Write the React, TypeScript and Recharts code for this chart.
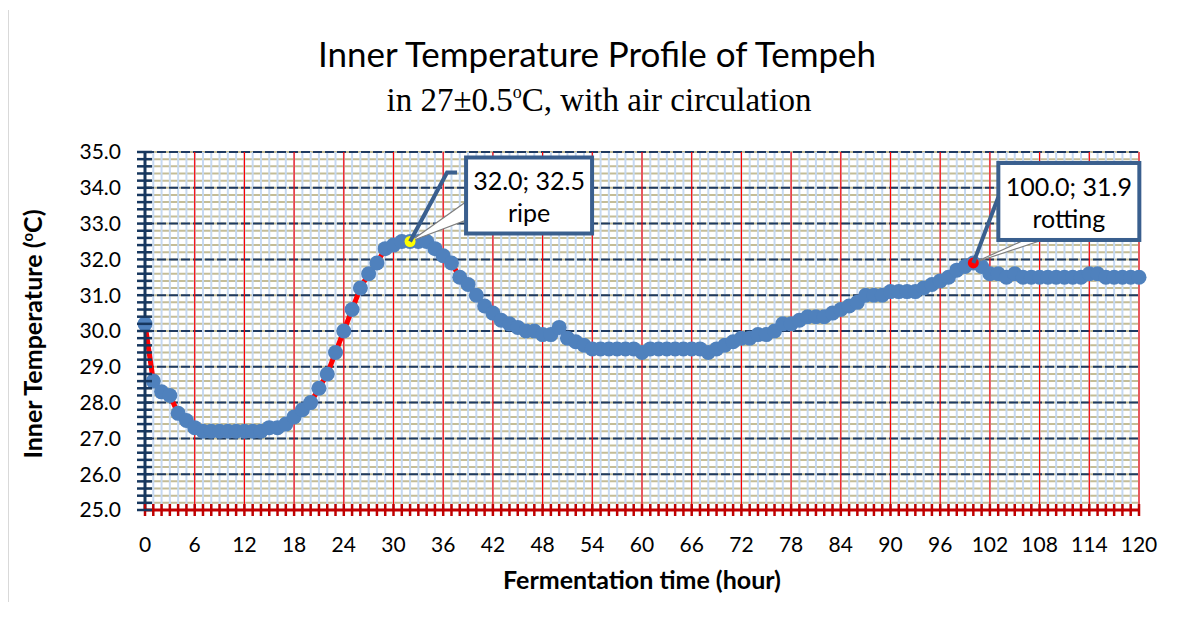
import React from "react"
import { ComposedChart, Line, XAxis, YAxis, ReferenceLine, ReferenceDot } from "recharts"

// inner temperature, one reading per hour (0..120 h)
const TEMPS = [
  30.2, 28.6, 28.3, 28.2, 27.7, 27.5, 27.3, 27.2, 27.2, 27.2,
  27.2, 27.2, 27.2, 27.2, 27.2, 27.3, 27.3, 27.4, 27.6, 27.8,
  28.0, 28.4, 28.8, 29.4, 30.0, 30.6, 31.2, 31.6, 31.9, 32.3,
  32.4, 32.5, 32.5, 32.5, 32.5, 32.3, 32.1, 31.9, 31.5, 31.3,
  31.0, 30.7, 30.5, 30.3, 30.2, 30.1, 30.0, 30.0, 29.9, 29.9,
  30.1, 29.8, 29.7, 29.6, 29.5, 29.5, 29.5, 29.5, 29.5, 29.5,
  29.4, 29.5, 29.5, 29.5, 29.5, 29.5, 29.5, 29.5, 29.4, 29.5,
  29.6, 29.7, 29.8, 29.8, 29.9, 29.9, 30.0, 30.2, 30.2, 30.3,
  30.4, 30.4, 30.4, 30.5, 30.6, 30.7, 30.8, 31.0, 31.0, 31.0,
  31.1, 31.1, 31.1, 31.1, 31.2, 31.3, 31.4, 31.5, 31.7, 31.8,
  31.9, 31.8, 31.6, 31.6, 31.5, 31.6, 31.5, 31.5, 31.5, 31.5,
  31.5, 31.5, 31.5, 31.5, 31.6, 31.6, 31.5, 31.5, 31.5, 31.5,
  31.5,
]
const HOURS = TEMPS.map((_, i) => i)
const data = HOURS.map((hour, i) => ({ hour, temp: TEMPS[i] }))

const X_TICKS = HOURS // minor tick every hour
const X_MAJOR = [0, 6, 12, 18, 24, 30, 36, 42, 48, 54, 60, 66, 72, 78, 84, 90, 96, 102, 108, 114, 120]
const Y_MAJOR = [25, 26, 27, 28, 29, 30, 31, 32, 33, 34, 35]
const Y_TICKS = Array.from({ length: 51 }, (_, i) => Math.round((25 + i * 0.2) * 10) / 10)

const RIPE = { hour: 32, temp: 32.5, label: "32.0; 32.5", note: "ripe" }
const ROT = { hour: 100, temp: 31.9, label: "100.0; 31.9", note: "rotting" }

const W = 1177
const H = 627
const SANS = "Lato, 'Noto Sans', sans-serif"
const BOX_BLUE = "#3A5F8E"

const isWhole = (v: number) => Math.abs(v - Math.round(v)) < 1e-6

const YTick = ({ x, y, payload }: any) => {
  const ax = x // tickSize 0, tickMargin 0
  const v = payload.value
  return (
    <g>
      <line x1={ax - 8} x2={ax + 7} y1={y} y2={y} stroke="#17375E" strokeWidth={2.5} />
      {isWhole(v) && (
        <text x={ax - 24} y={y} dy="0.355em" textAnchor="end" fontFamily={SANS} fontSize={21} fill="#000">
          {v.toFixed(1)}
        </text>
      )}
    </g>
  )
}

const XTick = ({ x, y, payload }: any) => {
  const ay = y
  const v = payload.value
  return (
    <g>
      <line x1={x} x2={x} y1={ay - 6} y2={ay + 6} stroke="#C00000" strokeWidth={2.5} />
      {X_MAJOR.includes(v) && (
        <text x={x} y={ay + 35} dy="0.355em" textAnchor="middle" fontFamily={SANS} fontSize={21} fill="#000">
          {v}
        </text>
      )}
    </g>
  )
}

const Callout = ({ cx, cy, dotFill, box, leader, wedge, label, note }: any) => {
  const bx = cx + box[0]
  const by = cy + box[1]
  const [bw, bh] = [box[2], box[3]]
  return (
    <g>
      <polygon
        points={`${cx},${cy} ${cx + wedge[0]},${cy + wedge[1]} ${cx + wedge[2]},${cy + wedge[3]}`}
        fill="#fff"
        stroke="#7F7F7F"
        strokeWidth={1.2}
      />
      <rect x={bx} y={by} width={bw} height={bh} fill="#fff" stroke={BOX_BLUE} strokeWidth={4} />
      <text x={bx + bw / 2} y={by + bh * 0.31} dy="0.355em" textAnchor="middle" fontFamily={SANS} fontSize={25} fill="#000">
        {label}
      </text>
      <text x={bx + bw / 2} y={by + bh * 0.73} dy="0.355em" textAnchor="middle" fontFamily={SANS} fontSize={25} fill="#000">
        {note}
      </text>
      <circle cx={cx} cy={cy} r={5.5} fill={dotFill} />
      <polyline points={leader.map((p: number[]) => `${cx + p[0]},${cy + p[1]}`).join(" ")} fill="none" stroke={BOX_BLUE} strokeWidth={4} />
    </g>
  )
}

const renderDot = (props: any) => {
  const { cx, cy, index } = props
  return <circle key={index} cx={cx} cy={cy} r={7.5} fill="#4F81BD" />
}

export default function App() {
  return (
    <div style={{ position: "absolute", left: 0, top: 0, width: W, height: H, background: "#fff" }}>
      <ComposedChart
        width={W}
        height={H}
        data={data}
        margin={{ top: 152, right: 38, bottom: 77, left: 85 }}
      >
        {Y_TICKS.map((v) => (
          <ReferenceLine key={"ym" + v} y={v} stroke="#C4BD97" strokeWidth={2} zIndex={-100} />
        ))}
        {X_TICKS.map((v) => (
          <ReferenceLine key={"xm" + v} x={v} stroke="#C6D9F1" strokeWidth={2} zIndex={-99} />
        ))}
        {Y_MAJOR.map((v) => (
          <ReferenceLine key={"yM" + v} y={v} stroke="#1F3A60" strokeWidth={2} strokeDasharray="9 3" zIndex={-98} />
        ))}
        {X_MAJOR.map((v) => (
          <ReferenceLine key={"xM" + v} x={v} stroke="#FF0000" strokeWidth={1.2} zIndex={-97} />
        ))}
        <XAxis
          dataKey="hour"
          type="number"
          domain={[0, 120]}
          ticks={X_TICKS}
          interval={0}
          height={40}
          tickSize={0}
          tickMargin={0}
          tickLine={false}
          axisLine={{ stroke: "#C00000", strokeWidth: 3 }}
          tick={<XTick />}
        />
        <YAxis
          type="number"
          domain={[25, 35]}
          ticks={Y_TICKS}
          interval={0}
          width={60}
          tickSize={0}
          tickMargin={0}
          tickLine={false}
          axisLine={{ stroke: "#17375E", strokeWidth: 3 }}
          tick={<YTick />}
        />
        <Line
          dataKey="temp"
          type="linear"
          stroke="#FF0000"
          strokeWidth={5}
          dot={renderDot}
          activeDot={false}
          isAnimationActive={false}
        />
        <ReferenceDot
          x={RIPE.hour}
          y={RIPE.temp}
          r={5}
          ifOverflow="visible"
          zIndex={2100}
          shape={(p: any) => (
            <Callout
              cx={p.cx}
              cy={p.cy}
              dotFill="#FFFF00"
              box={[56, -84, 126, 76]}
              leader={[[0, 0], [37, -69], [47, -69]]}
              wedge={[55, -39, 55, -21]}
              label={RIPE.label}
              note={RIPE.note}
            />
          )}
        />
        <ReferenceDot
          x={ROT.hour}
          y={ROT.temp}
          r={5}
          ifOverflow="visible"
          zIndex={2100}
          shape={(p: any) => (
            <Callout
              cx={p.cx}
              cy={p.cy}
              dotFill="#FF0000"
              box={[25, -100, 141, 77]}
              leader={[[0, 0], [25, -66]]}
              wedge={[51, -23, 81, -27]}
              label={ROT.label}
              note={ROT.note}
            />
          )}
        />
      </ComposedChart>
      <svg width={W} height={H} style={{ position: "absolute", left: 0, top: 0, pointerEvents: "none" }}>
        <line x1={8.5} x2={8.5} y1={10} y2={602} stroke="#D9D9D9" strokeWidth={1} />
        <text x={597} y={67} textAnchor="middle" fontFamily={SANS} fontSize={35} fill="#000">
          Inner Temperature Profile of Tempeh
        </text>
        <text x={599} y={111} textAnchor="middle" fontFamily="'Liberation Serif', serif" fontSize={33} fill="#000">
          in 27±0.5<tspan fontSize={18} dy={-13}>o</tspan>
          <tspan dy={13}>C, with air circulation</tspan>
        </text>
        <text x={642} y={589} textAnchor="middle" fontFamily={SANS} fontWeight="bold" fontSize={25} fill="#000">
          Fermentation time (hour)
        </text>
        <text
          transform="translate(42,334) rotate(-90)"
          textAnchor="middle"
          fontFamily={SANS}
          fontWeight="bold"
          fontSize={25}
          fill="#000"
        >
          Inner Temperature (<tspan fontSize={15} dy={-9}>o</tspan>
          <tspan dy={9}>C)</tspan>
        </text>
      </svg>
    </div>
  )
}
